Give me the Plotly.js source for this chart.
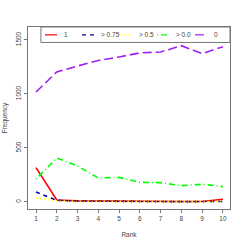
<!DOCTYPE html>
<html><head><meta charset="utf-8">
<script src="https://cdn.plot.ly/plotly-3.0.1.min.js"></script>
<style>html,body{margin:0;padding:0;background:#fff}#c{width:245px;height:245px}</style>
</head><body><div id="c"></div>
<script>
const ranks = [1,2,3,4,5,6,7,8,9,10];
const seriesNames = ["1", "> 0.75", "> 0.5", "> 0.0", "0"];
const s1    = [318, 18, 10, 8, 6, 5, 5, 4, 5, 25];
const s075  = [93, 15, 8, 6, 4, 4, 3, 3, 4, 5];
const s05   = [37, 10, 4, 3, 2, 2, 2, 2, 2, 3];
const s00   = [213, 407, 333, 222, 228, 182, 179, 151, 164, 142];
const s0    = [1018, 1204, 1259, 1310, 1343, 1380, 1389, 1447, 1373, 1438];
const yTicks = [0, 500, 1000, 1500];

const colors = ["#ff0000", "#00008b", "#ffff00", "#00ff00", "#a020f0"];
const dashes = ["solid", "4px,4px", "1px,3px", "1px,3px,6px,3px", "9px,4px"];
const values = [s1, s075, s05, s00, s0];

const traces = values.map((v, i) => ({
  x: ranks, y: v, type: "scatter", mode: "lines", name: seriesNames[i],
  line: {color: colors[i], width: 1.6, dash: dashes[i]}, showlegend: false
}));

const shapes = [{type:"rect", xref:"paper", yref:"paper", x0:0.064, x1:1, y0:0.915, y1:1,
  line:{color:"#777", width:1}, fillcolor:"rgba(255,255,255,0)"}];
const annotations = [];
const lx = [0.084, 0.267, 0.455, 0.639, 0.827];
seriesNames.forEach((n, i) => {
  shapes.push({type:"line", xref:"paper", yref:"paper", x0:lx[i], x1:lx[i]+0.06, y0:0.957, y1:0.957,
    line:{color:colors[i], width:1.2, dash:dashes[i]}});
  annotations.push({xref:"paper", yref:"paper", x:lx[i]+0.083, y:0.957, text:n, showarrow:false,
    xanchor:"left", yanchor:"middle", font:{size:6.5, color:"#444"}});
});

const axisCommon = {showline:true, linecolor:"#777", linewidth:1, mirror:true, ticks:"outside",
  ticklen:3, tickcolor:"#777", showgrid:false, zeroline:false, tickfont:{size:6.5, color:"#444"}};

Plotly.newPlot("c", traces, {
  width:245, height:245, margin:{l:28, r:15, t:27, b:36},
  paper_bgcolor:"#fff", plot_bgcolor:"#fff",
  font:{family:"Liberation Sans, Arial, sans-serif", color:"#444"},
  xaxis: Object.assign({}, axisCommon, {range:[0.615, 10.34], tickvals:ranks, ticktext:ranks.map(String),
    title:{text:"Rank", font:{size:6.5}, standoff:11}}),
  yaxis: Object.assign({}, axisCommon, {range:[-65, 1620], tickvals:yTicks, tickangle:-90,
    title:{text:"Frequency", font:{size:6.5}, standoff:7}}),
  shapes: shapes, annotations: annotations, showlegend:false
}, {staticPlot:true, displayModeBar:false});
</script></body></html>
